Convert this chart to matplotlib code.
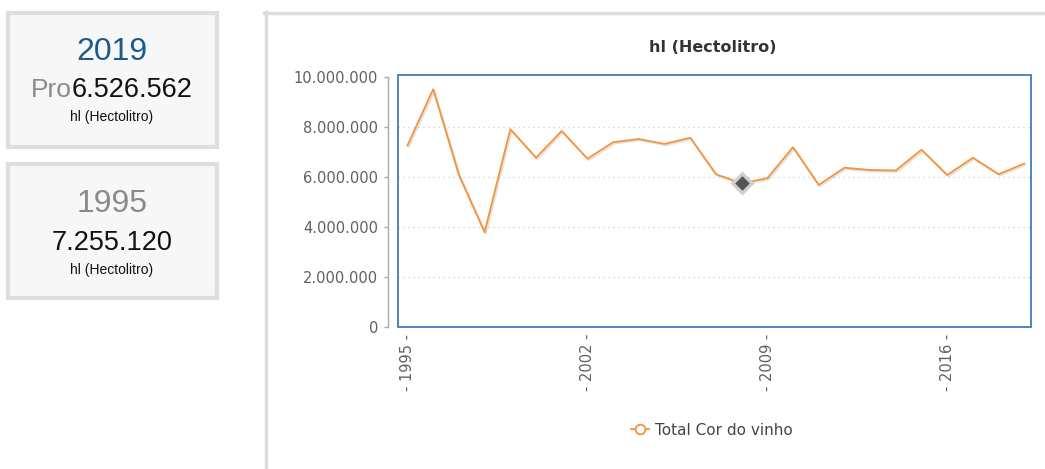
import matplotlib.pyplot as plt
import matplotlib.patheffects as pe
from matplotlib.patches import Rectangle
from matplotlib.lines import Line2D
from matplotlib.ticker import FuncFormatter

# Produção anual (hl)
anos = list(range(1995, 2020))
valores = [7255120, 9500000, 6070000, 3780000, 7900000, 6760000, 7830000,
           6720000, 7380000, 7510000, 7310000, 7560000, 6100000, 5740000,
           5940000, 7180000, 5670000, 6360000, 6270000, 6250000, 7080000,
           6070000, 6760000, 6100000, 6526562]
anos_ticks = [1995, 2002, 2009, 2016]
destaque = 2008

W, H = 1045, 469
fig = plt.figure(figsize=(W / 100, H / 100), dpi=100)
fig.patch.set_facecolor('white')


def fx(px):
    return px / W


def fy(py):
    return 1 - py / H


def fmt_pt(v):
    return f"{int(round(v)):,}".replace(',', '.')


# Caixas de resumo à esquerda
for top, bottom in [(13, 147), (164, 298)]:
    fig.add_artist(Rectangle((fx(8), fy(bottom)), fx(209), (bottom - top) / H,
                             transform=fig.transFigure, facecolor='#f7f7f7',
                             edgecolor='#dedede', linewidth=3))

box_font = 'Liberation Sans'
fig.text(fx(112), fy(60), str(anos[-1]), ha='center', va='baseline',
         fontsize=23, color='#1d5a8a', family=box_font)
fig.text(fx(72), fy(97), 'Pro', ha='right', va='baseline',
         fontsize=19, color='#8a8a8a', family=box_font)
fig.text(fx(72), fy(97), fmt_pt(valores[-1]), ha='left', va='baseline',
         fontsize=19.5, color='#111111', family=box_font)
fig.text(fx(112), fy(121), 'hl (Hectolitro)', ha='center', va='baseline',
         fontsize=10, color='#111111', family=box_font)

fig.text(fx(112), fy(212), str(anos[0]), ha='center', va='baseline',
         fontsize=23, color='#8a8a8a', family=box_font)
fig.text(fx(112), fy(250), fmt_pt(valores[0]), ha='center', va='baseline',
         fontsize=19.5, color='#111111', family=box_font)
fig.text(fx(112), fy(274), 'hl (Hectolitro)', ha='center', va='baseline',
         fontsize=10, color='#111111', family=box_font)

# Moldura do painel do gráfico
fig.add_artist(Line2D([fx(265.5), fx(265.5)], [fy(12), 0], transform=fig.transFigure,
                      color='#dddddd', linewidth=2.5))
fig.add_artist(Line2D([fx(264), 1], [fy(13.5), fy(13.5)], transform=fig.transFigure,
                      color='#dddddd', linewidth=2.5))

# Área do gráfico
left, right, top, bottom = 398, 1031, 75, 326.7
ax = fig.add_axes([fx(left), fy(bottom), fx(right - left), (bottom - top) / H])
ax.set_xlim(1994.63, 2019.26)
ax.set_ylim(0, 10.07e6)

for y in [2e6, 4e6, 6e6, 8e6]:
    ax.axhline(y, color='#cccccc', linewidth=0.9, linestyle=(0, (1, 3)), zorder=1)

ax.plot(anos, valores, color='#f7923a', linewidth=1.3, zorder=3,
        path_effects=[pe.SimpleLineShadow(offset=(1, -1), shadow_color='black', alpha=0.12),
                      pe.Normal()])

i = anos.index(destaque)
ax.scatter([destaque], [valores[i]], marker='D', s=150, color='#cfcfcf', zorder=4, linewidths=0)
ax.scatter([destaque], [valores[i]], marker='D', s=55, color='#555555', zorder=5, linewidths=0)

ax.add_patch(Rectangle((0, 0), 1, 1, transform=ax.transAxes, fill=False,
                       edgecolor='#3f7db3', linewidth=1.3, zorder=6, clip_on=False))

for s in ['top', 'right', 'bottom']:
    ax.spines[s].set_visible(False)
ax.spines['left'].set_position(('outward', 7.2))
ax.spines['left'].set_bounds(0, 10e6)
ax.spines['left'].set_color('#aaaaaa')
ax.spines['left'].set_linewidth(1.0)

ax.set_yticks([0, 2e6, 4e6, 6e6, 8e6, 10e6])
ax.yaxis.set_major_formatter(FuncFormatter(lambda v, p: fmt_pt(v)))
ax.tick_params(axis='y', direction='out', length=3, width=1, color='#aaaaaa',
               labelcolor='#606060', labelsize=10.5, pad=4)

ax.set_xticks(anos_ticks)
ax.set_xticklabels([f'- {a} -' for a in anos_ticks], rotation=90, va='top', ha='center')
ax.tick_params(axis='x', length=0, labelcolor='#606060', labelsize=10.5, pad=5)

fig.text(fx(713), fy(48), 'hl (Hectolitro)', ha='center', va='center',
         fontsize=11.5, fontweight='bold', color='#333333')

handle = Line2D([], [], color='#f7923a', linewidth=1.3, marker='o', markersize=7,
                markerfacecolor='white', markeredgecolor='#f7923a', markeredgewidth=1.3)
fig.legend([handle], ['Total Cor do vinho'], loc='center',
           bbox_to_anchor=(fx(712), fy(430)), frameon=False, fontsize=11,
           handlelength=1.2, handletextpad=0.4, labelcolor='#444444')

fig.savefig('out.png', dpi=100)
